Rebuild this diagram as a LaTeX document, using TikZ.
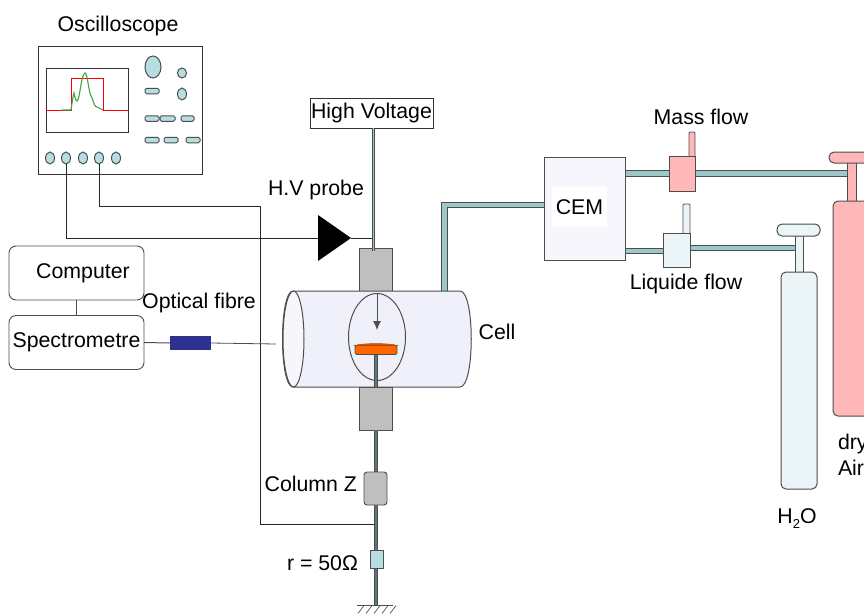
\documentclass[tikz,border=0pt]{standalone}
\usepackage{fontspec}
\setmainfont{Liberation Sans}
\usepackage{tikz}
\usetikzlibrary{arrows.meta}
\usetikzlibrary{shapes.geometric}
\definecolor{knobc}{HTML}{B7DDE0}
\definecolor{edgec}{HTML}{4D4D4D}
\definecolor{pipec}{HTML}{9CC8CA}
\definecolor{cellc}{HTML}{F0F0FB}
\definecolor{cemc}{HTML}{F7F6FD}
\definecolor{blockc}{HTML}{BFBFBF}
\definecolor{pinkc}{HTML}{FFB7B7}
\definecolor{palec}{HTML}{EBF4F6}
\definecolor{fibrec}{HTML}{2E3192}
\definecolor{discc}{HTML}{FF6600}
\definecolor{tracec}{HTML}{3FA33F}

\begin{document}
\begin{tikzpicture}[x=1pt, y=-1pt,
  every node/.style = {align=center, inner sep=0pt, outer sep=0pt, font=\fontsize{21.3}{25}\selectfont},
  box/.style = {draw=black!80, line width=1pt, fill=white, minimum width=#1},
  boxh/.style = {minimum height=#1},
  softbox/.style = {draw=edgec, line width=.9pt, fill=white, rounded corners=7pt, minimum width=135, minimum height=54},
  knob/.style = {ellipse, draw=edgec, line width=1pt, fill=knobc, minimum width=9, minimum height=12},
  pill/.style = {draw=edgec, line width=1pt, fill=knobc, rounded corners=1.5pt, minimum width=#1, minimum height=5.5},
  gray block/.style = {draw=edgec, line width=.9pt, fill=blockc, minimum width=33},
  flowbox/.style = {draw=edgec, line width=.9pt, fill=#1},
  bottle/.style = {draw=edgec, line width=1pt, fill=#1},
  wire/.style = {draw=black!85, line width=1pt},
  pipe/.style = {draw=edgec, line width=1.2pt, double=pipec, double distance=4.5pt},
  hvrod/.style = {draw=edgec, line width=1pt, double=pipec, double distance=1pt},
  rod/.style = {draw=edgec, line width=1pt, double=pipec!60!black, double distance=1.5pt}]
  \useasboundingbox (0,0) rectangle (864,613);
  \clip (0,0) rectangle (864,613);

  \node (scopelabel) at (118,26) {Oscilloscope};
  \node [box=164, boxh=128] (scope) at (120,110) {};
  \node [box=82, boxh=64] (screen) at (87,100) {};
  \path [draw, red, line width=1pt] (screen.west |- 0,110) -- (71,110) -- (71,78) -- (103,78) -- (103,110) -- (screen.east |- 0,110);
  \path [draw, tracec, line width=1.1pt] (62,110) -- (71,110) .. controls (72,103) and (73,96) .. (74,93)
    .. controls (75,98) and (76,101) .. (77,101) .. controls (80,100) and (81,74) .. (85,73)
    .. controls (88,74) and (88,92) .. (92,98) .. controls (94,104) and (95,107) .. (97,107) -- (103,110);
  \node [knob, minimum width=16, minimum height=22] (knobbig) at (153,67) {};
  \node [knob, minimum height=10] (knoba) at (182,73) {};
  \node [knob] (knobb) at (182,94) {};
  \node [pill=14] (pilla) at (152,91) {};
  \node [pill=14] (pillb) at (152,118.5) {};
  \node [pill=15] (pillc) at (167.5,118.5) {};
  \node [pill=13] (pilld) at (187.5,118.5) {};
  \node [pill=14] (pille) at (152,140) {};
  \node [pill=14] (pillf) at (171,140) {};
  \node [pill=14] (pillg) at (193,140) {};
  \node [knob] (chana) at (50,158) {};
  \node [knob] (chanb) at (66,158) {};
  \node [knob] (chanc) at (83,158) {};
  \node [knob] (chand) at (99,158) {};
  \node [knob] (chane) at (116,158) {};

  \node [box=123, boxh=30] (hv) at (371.5,113) {\raisebox{-1pt}{High Voltage}};
  \node (hvlabel) at (316,190) {H.V probe};
  \node [isosceles triangle, isosceles triangle stretches, fill=black, minimum width=46, minimum height=33, anchor=apex] (probe) at (351,238) {};
  \coordinate (probeend) at (373,238);
  \path [wire] (chanb.south) |- (probe.lower side);
  \path [wire] (probe.apex) -- (probeend);
  \coordinate (groundtap) at (375,524);
  \path [wire] (chand.south) |- (260,206) |- (groundtap);

  \node [softbox] (computer) at (76.5,273) {\hspace*{13pt}Computer};
  \node [softbox] (spectro) at (76.5,342.5) {Spectrometre};
  \path [draw, edgec, line width=1pt] (computer) -- (spectro);
  \node (fibrelabel) at (199,303) {Optical fibre};
  \node [fill=fibrec, minimum width=41, minimum height=14] (fibre) at (190.5,343) {};
  \coordinate (fibreend) at (276,344);
  \path [draw, edgec, line width=1pt] (spectro.east) -- (fibre.west);
  \path [draw, edgec, line width=.8pt] (fibre.east) -- (fibreend);

  \node [gray block, minimum height=43] (topblock) at (375.5,269.5) {};
  \path [hvrod] (hv.south -| probeend) -- (373,251);
  \node [gray block, minimum height=43] (lowblock) at (375.5,408.5) {};
  \coordinate (groundtop) at (376,605);
  \path [rod] (lowblock.south -| groundtop) -- (groundtop);
  \path [pipe] (444.5,291) -- (444.5,205) -- (544,205);
  \path [draw=edgec, line width=1pt, fill=cellc] (293,291) -- (460,291) .. controls (475,291) and (475,387) .. (460,387) -- (293,387) .. controls (279,387) and (279,291) .. (293,291);
  \node [ellipse, draw=edgec, line width=1pt, fill=cemc, minimum width=21, minimum height=96] (cellend) at (293.5,339) {};
  \node [ellipse, draw=edgec, line width=1pt, minimum width=57, minimum height=87] (window) at (377,337) {};
  \coordinate (needletop) at (377,293);
  \coordinate (needletip) at (377,330);
  \path [draw, -{Latex[length=9pt,width=8pt]}, edgec, line width=.9pt] (needletop) -- (needletip);
  \path [rod] (376,354) -- (376,387);
  \node [draw=edgec, line width=.8pt, fill=discc, rounded corners=1.5pt, minimum width=42, minimum height=9] (disc) at (376,350) {};
  \path [draw=discc!70!black, fill=discc!85!black, line width=.5pt] (disc.north west) .. controls (362,343) and (390,343) .. (disc.north east) -- cycle;
  \node (celllabel) at (497,332) {Cell};

  \node [flowbox=blockc, rounded corners=3pt, minimum width=23, minimum height=33] (column) at (375.5,488.5) {};
  \node [anchor=east] (columnlabel) at (357,484) {Column Z};
  \node [flowbox=knobc, minimum width=13, minimum height=18] (resistor) at (376.5,559) {};
  \node [anchor=east] (rlabel) at (358,563) {r = 50Ω};
  \path [draw, edgec, line width=1pt] (357,605.5) -- (393,605.5);
  \foreach \x in {364,372,380,388,396}
    \path [draw, edgec, line width=.7pt] (\x,605.5) -- ++(-6,8);

  \path [pipe] (625,173.5) -- (848,173.5);
  \path [pipe] (625,251) -- (664,251);
  \path [pipe] (690,248) -- (796,248);
  \node [flowbox=cemc, minimum width=81, minimum height=103] (cem) at (584.5,208.5) {};
  \node [fill=white, minimum width=55, minimum height=40] (cemlabel) at (579.5,207) {CEM};

  \node [flowbox=pinkc, rounded corners=1pt, minimum width=6, minimum height=26] (massstem) at (692,145) {};
  \node [flowbox=pinkc, minimum width=26, minimum height=35] (massflow) at (682,173.5) {};
  \node (masslabel) at (701,117) {Mass flow};
  \node [flowbox=palec, rounded corners=1pt, minimum width=7, minimum height=30] (liquidstem) at (686.5,219) {};
  \node [flowbox=palec, minimum width=27, minimum height=34] (liquidflow) at (676.5,250) {};
  \node (liquidlabel) at (686,284) {Liquide flow};

  \node [bottle=palec, minimum width=8, minimum height=38] (waterneck) at (799,254) {};
  \node [bottle=palec, rounded corners=5pt, minimum width=43, minimum height=12] (waterhandle) at (798.5,230) {};
  \node [bottle=palec, rounded corners=5pt, minimum width=36, minimum height=217] (waterbody) at (799,380.5) {};
  \node (waterlabel) at (797,519) {H\raisebox{-5pt}{\fontsize{13}{13}\selectfont 2}O};

  \node [bottle=pinkc, minimum width=9, minimum height=40] (airneck) at (851.5,182) {};
  \node [bottle=pinkc, rounded corners=5pt, minimum width=46, minimum height=11] (airhandle) at (852,157.5) {};
  \node [bottle=pinkc, rounded corners=5pt, minimum width=46, minimum height=215] (airbody) at (856,308.5) {};
  \node [anchor=west] (drylabel) at (838,444) {dry};
  \node [anchor=west] (airlabel) at (838,468) {Air};
\end{tikzpicture}
\end{document}
